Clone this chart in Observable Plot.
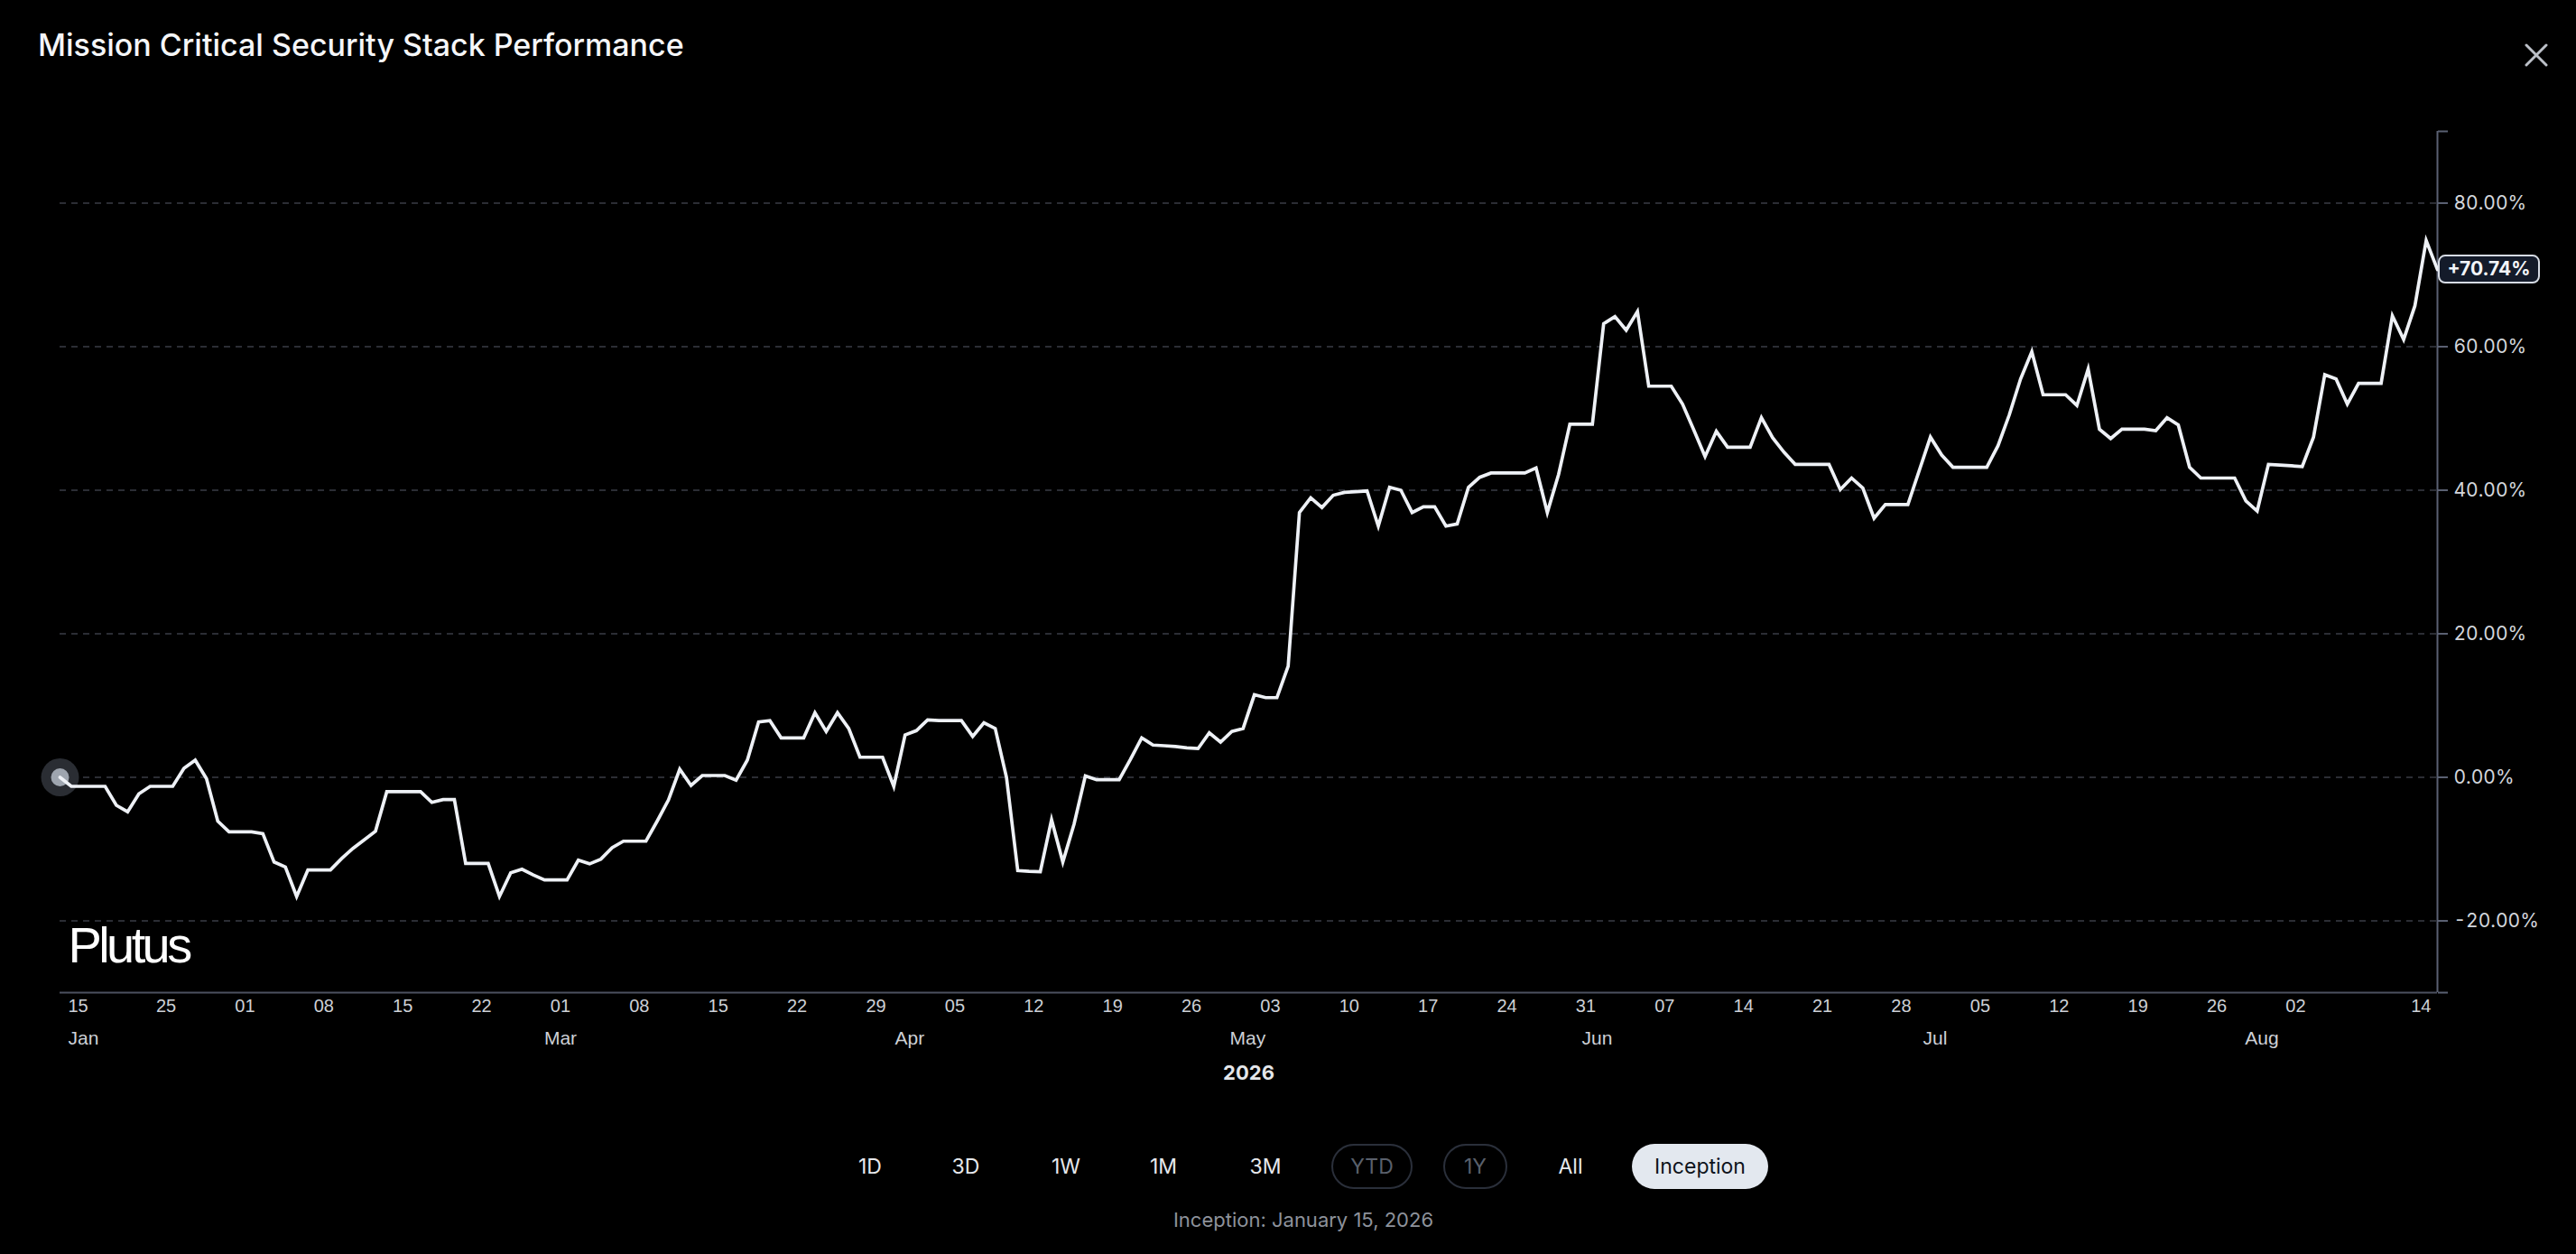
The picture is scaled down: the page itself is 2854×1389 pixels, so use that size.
<!DOCTYPE html>
<html>
<head>
<meta charset="utf-8">
<script src="https://cdn.jsdelivr.net/npm/d3@7"></script>
<script src="https://cdn.jsdelivr.net/npm/@observablehq/plot@0.6"></script>
<style>
  html, body { margin: 0; padding: 0; background: #000; }
  body { width: 2854px; height: 1389px; position: relative; overflow: hidden; font-family: Inter, "Noto Sans", sans-serif; }
  #title { position: absolute; left: 42px; top: 33px; font-size: 34px; line-height: 34px; color: #f5f6f8; font-weight: 500; white-space: nowrap; }
  #close { position: absolute; left: 2797px; top: 48px; }
  #chart { position: absolute; left: 0; top: 100px; }
  .btn { position: absolute; top: 1267px; height: 50px; line-height: 50px; font-size: 23px; color: #e6e8ec; text-align: center; box-sizing: border-box; border-radius: 25px; }
  .btn.dim { border: 2px solid #2a2f3a; color: #5a606c; line-height: 46px; }
  .btn.on { background: #e3e8ef; color: #0e131b; }
  #caption { position: absolute; top: 1339px; left: 1244px; width: 400px; text-align: center; font-size: 22px; line-height: 24px; color: #8d929b; }
</style>
</head>
<body>
<div id="title">Mission Critical Security Stack Performance</div>
<svg id="close" width="26" height="26" viewBox="0 0 26 26"><path d="M2 2 L24 24 M24 2 L2 24" stroke="#bcc0c8" stroke-width="3" stroke-linecap="round"/></svg>
<div id="chart"></div>
<div class="btn" style="left:934px;width:60px">1D</div>
<div class="btn" style="left:1040px;width:60px">3D</div>
<div class="btn" style="left:1149px;width:64px">1W</div>
<div class="btn" style="left:1257px;width:64px">1M</div>
<div class="btn" style="left:1370px;width:64px">3M</div>
<div class="btn dim" style="left:1475px;width:90px">YTD</div>
<div class="btn dim" style="left:1599px;width:71px">1Y</div>
<div class="btn" style="left:1710px;width:60px">All</div>
<div class="btn on" style="left:1808px;width:151px">Inception</div>
<div id="caption">Inception: January 15, 2026</div>
<script>
// ---- data ----
const startDate = "2026-01-15T14:00:00Z";
const values = [
  0, -1.26, -1.26, -1.26, -1.26, -3.9, -4.8, -2.3, -1.26, -1.26,
  -1.26, 1.26, 2.4, -0.2, -6.1, -7.6, -7.6, -7.6, -7.85, -11.8,
  -12.5, -16.6, -12.9, -12.9, -12.9, -11.3, -9.9, -8.7, -7.5, -2.0,
  -2.0, -2.0, -2.0, -3.5, -3.1, -3.1, -12.0, -12.0, -12.0, -16.6,
  -13.3, -12.8, -13.6, -14.3, -14.3, -14.3, -11.55, -12.06, -11.4, -9.8,
  -8.9, -8.9, -8.9, -6.1, -3.15, 1.13, -1.13, 0.25, 0.25, 0.25,
  -0.4, 2.4, 7.7, 7.9, 5.5, 5.5, 5.5, 9.0, 6.4, 9.0,
  6.8, 2.8, 2.8, 2.8, -1.26, 5.9, 6.5, 8.0, 7.9, 7.9,
  7.9, 5.7, 7.6, 6.8, 0.0, -13.0, -13.1, -13.15, -5.9, -11.8,
  -6.5, 0.2, -0.34, -0.34, -0.34, 2.5, 5.5, 4.5, 4.4, 4.3,
  4.1, 4.0, 6.2, 4.9, 6.4, 6.8, 11.5, 11.1, 11.1, 15.5,
  36.9, 38.95, 37.6, 39.3, 39.7, 39.8, 39.9, 35.0, 40.4, 40.0,
  36.9, 37.7, 37.7, 35.0, 35.3, 40.4, 41.8, 42.4, 42.4, 42.4,
  42.4, 43.1, 36.9, 42.2, 49.2, 49.2, 49.2, 63.2, 64.2, 62.3,
  64.9, 54.5, 54.5, 54.5, 52.0, 48.4, 44.7, 48.2, 46.0, 46.0,
  46.0, 50.1, 47.3, 45.3, 43.6, 43.6, 43.6, 43.6, 40.1, 41.7,
  40.3, 36.1, 38.0, 38.0, 38.0, 42.7, 47.4, 44.9, 43.2, 43.2,
  43.2, 43.2, 46.2, 50.5, 55.5, 59.3, 53.3, 53.3, 53.3, 51.8,
  56.9, 48.5, 47.2, 48.5, 48.5, 48.5, 48.3, 50.1, 49.1, 43.2,
  41.7, 41.7, 41.7, 41.7, 38.5, 37.1, 43.6, 43.5, 43.4, 43.3,
  47.4, 56.1, 55.5, 52.0, 54.9, 54.9, 54.9, 64.3, 61.0, 65.7,
  74.8, 70.74
];
const dayTicks = [
  "2026-01-25", "2026-02-01", "2026-02-08", "2026-02-15", "2026-02-22",
  "2026-03-01", "2026-03-08", "2026-03-15", "2026-03-22", "2026-03-29",
  "2026-04-05", "2026-04-12", "2026-04-19", "2026-04-26", "2026-05-03",
  "2026-05-10", "2026-05-17", "2026-05-24", "2026-05-31", "2026-06-07",
  "2026-06-14", "2026-06-21", "2026-06-28", "2026-07-05", "2026-07-12",
  "2026-07-19", "2026-07-26", "2026-08-02"
];
const monthNames = ["Jan", "Mar", "Apr", "May", "Jun", "Jul", "Aug"];
const monthDates = ["2026-01-15T14:00:00Z", "2026-03-01", "2026-04-01", "2026-05-01", "2026-06-01", "2026-07-01", "2026-07-30"];
const yTicks = [-20, 0, 20, 40, 60, 80];
const yDomain = [-30, 90];
const yearLabel = "2026";
const brand = "Plutus";

// ---- build table ----
const start = new Date(startDate);
const data = values.map((v, i) => ({ date: d3.utcDay.offset(start, i), value: v }));
const first = data[0], last = data[data.length - 1];
const ticks = dayTicks.map(s => new Date(s));
const months = monthNames.map((m, i) => ({ name: m, date: new Date(monthDates[i]) }));
const fmtDay = d3.utcFormat("%d");

const axisColor = "#4c5160";
const labelColor = "#cdd0d6";
const sans = "Liberation Sans, Arial, sans-serif";

const plot = Plot.plot({
  width: 2854,
  height: 1130,
  marginTop: 45,
  marginBottom: 131,
  marginLeft: 66,
  marginRight: 154,
  style: { background: "#000", color: labelColor, fontFamily: "Inter, sans-serif", overflow: "visible" },
  x: { type: "utc", domain: [first.date, last.date], axis: null },
  y: { domain: yDomain, axis: null },
  marks: [
    Plot.gridY({ ticks: yTicks, stroke: "#3a3d45", strokeOpacity: 1, strokeWidth: 1.5, strokeDasharray: "7,6" }),
    Plot.ruleY([yDomain[0]], { stroke: axisColor, strokeWidth: 2 }),
    Plot.ruleX([last.date], { y1: yDomain[0], y2: yDomain[1], stroke: "#5a6072", strokeWidth: 2 }),
    Plot.axisY({
      anchor: "right",
      ticks: [yDomain[0], ...yTicks, yDomain[1]],
      tickFormat: d => (d === yDomain[0] || d === yDomain[1]) ? "" : d.toFixed(2) + "%",
      tickSize: 11, tickPadding: 7, fontSize: 21,
      stroke: "#5a6072", strokeWidth: 2, fill: "#d3d6dc", label: null
    }),
    Plot.dot([first], { x: "date", y: "value", r: 21, fill: "#2a2d33" }),
    Plot.dot([first], { x: "date", y: "value", r: 10, fill: "#9ea5af" }),
    Plot.line(data, { x: "date", y: "value", stroke: "#eef1f6", strokeWidth: 3.7, strokeLinejoin: "miter", strokeMiterlimit: 8 }),
    // day labels
    Plot.text([first.date], { x: d => d, text: d => fmtDay(d), frameAnchor: "bottom", textAnchor: "start", dx: 9, dy: 21, fontSize: 20, fill: labelColor, fontFamily: sans }),
    Plot.text(ticks, { x: d => d, text: d => fmtDay(d), frameAnchor: "bottom", dy: 21, fontSize: 20, fill: labelColor, fontFamily: sans }),
    Plot.text([last.date], { x: d => d, text: d => fmtDay(d), frameAnchor: "bottom", textAnchor: "end", dx: -7, dy: 21, fontSize: 20, fill: labelColor, fontFamily: sans }),
    // month labels
    Plot.text(months.slice(0, 1), { x: "date", text: "name", frameAnchor: "bottom", textAnchor: "start", dx: 9, dy: 57, fontSize: 21, fill: labelColor, fontFamily: sans }),
    Plot.text(months.slice(1), { x: "date", text: "name", frameAnchor: "bottom", dy: 57, fontSize: 21, fill: labelColor, fontFamily: sans }),
    // year
    Plot.text([yearLabel], { frameAnchor: "bottom", dy: 96, fontSize: 22, fontWeight: "bold", fill: "#e4e6ea" }),
    // brand watermark
    Plot.text([brand], { frameAnchor: "bottom-left", textAnchor: "start", dx: 9, dy: -34, fontSize: 56, fill: "#ffffff", fontFamily: sans })
  ]
});

document.getElementById("chart").appendChild(plot);

// letter spacing for brand
d3.select(plot).selectAll("text").filter(function () { return this.textContent === brand; }).attr("letter-spacing", "-3.6");

// last-value badge using the plot's own scales
const sx = plot.scale("x"), sy = plot.scale("y");
const bx = sx.apply(last.date), by = sy.apply(last.value);
const badge = d3.select(plot).append("g");
badge.append("rect").attr("x", bx + 2).attr("y", by - 15).attr("width", 111).attr("height", 30).attr("rx", 7)
  .attr("fill", "#141b2a").attr("stroke", "#d6dbe4").attr("stroke-width", 2);
badge.append("text").attr("x", bx + 57.5).attr("y", by).attr("dy", "0.35em").attr("text-anchor", "middle")
  .attr("font-size", 21).attr("font-weight", "bold").attr("fill", "#f3f5f8")
  .text((last.value >= 0 ? "+" : "") + last.value.toFixed(2) + "%");
</script>
</body>
</html>
